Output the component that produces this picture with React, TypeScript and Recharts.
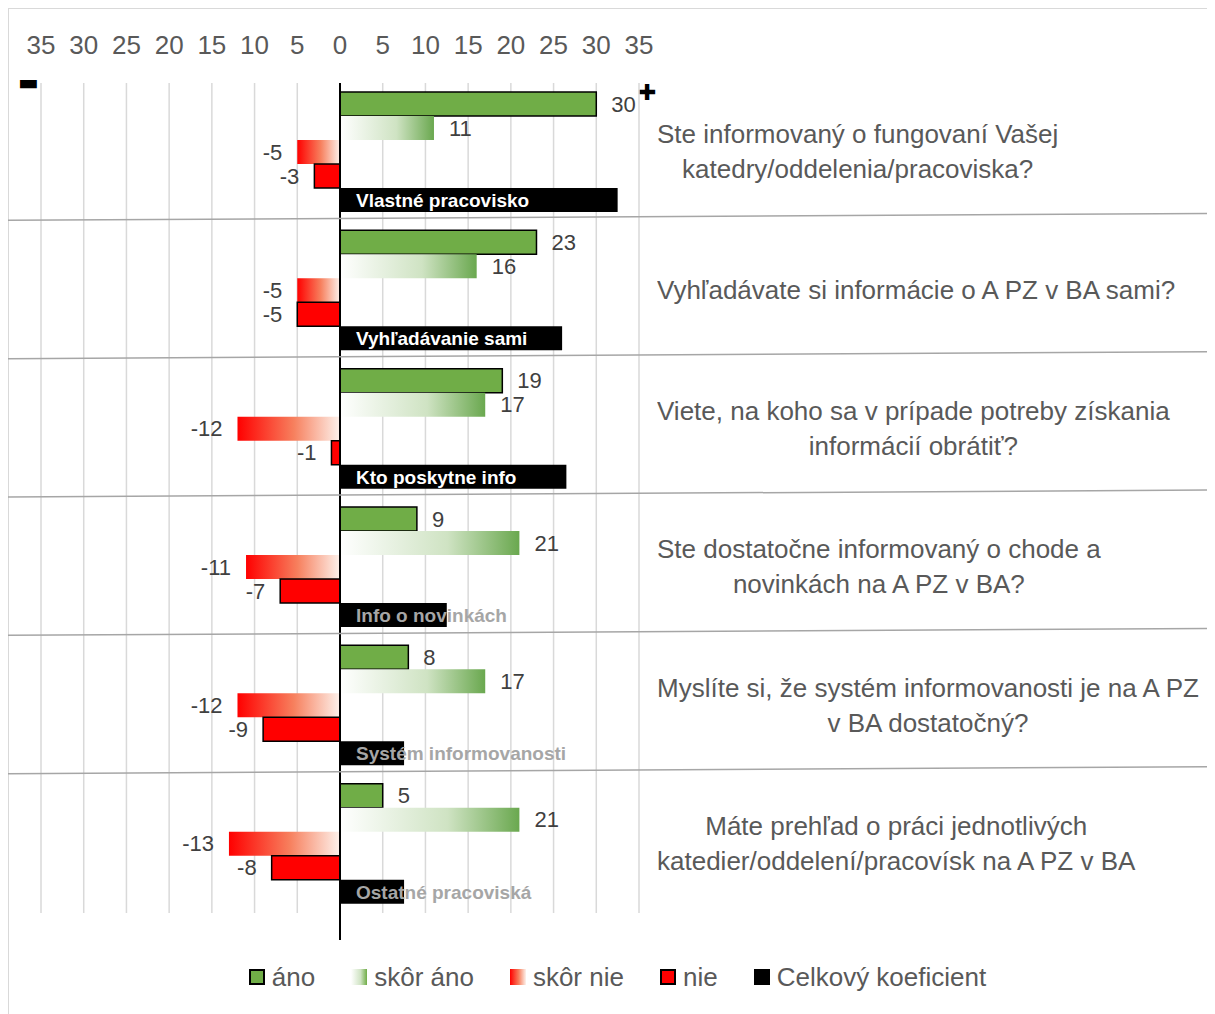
import React from 'react';
import {
  BarChart,
  Bar,
  XAxis,
  YAxis,
  CartesianGrid,
  ReferenceLine,
  LabelList,
  Legend,
} from 'recharts';

// skupiny (názvy v čiernom stĺpci)
const categories = [
  'Vlastné pracovisko',
  'Vyhľadávanie sami',
  'Kto poskytne info',
  'Info o novinkách',
  'Systém informovanosti',
  'Ostatné pracoviská',
];

// otázky vpravo
const questions = [
  ['Ste informovaný o fungovaní Vašej', 'katedry/oddelenia/pracoviska?'],
  ['Vyhľadávate si informácie o A PZ v BA sami?'],
  ['Viete, na koho sa v prípade potreby získania', 'informácií obrátiť?'],
  ['Ste dostatočne informovaný o chode a', 'novinkách na A PZ v BA?'],
  ['Myslíte si, že systém informovanosti je na A PZ', 'v BA dostatočný?'],
  ['Máte prehľad o práci jednotlivých', 'katedier/oddelení/pracovísk na A PZ v BA'],
];

const ano = [30, 23, 19, 9, 8, 5];
const skorAno = [11, 16, 17, 21, 17, 21];
const skorNie = [-5, -5, -12, -11, -12, -13];
const nie = [-3, -5, -1, -7, -9, -8];
const celkovy = [32.5, 26, 26.5, 12.5, 7.5, 7.5];

const xTicks = [-35, -30, -25, -20, -15, -10, -5, 0, 5, 10, 15, 20, 25, 30, 35];
const seriesNames = ['áno', 'skôr áno', 'skôr nie', 'nie', 'Celkový koeficient'];

const data = categories.map((name, i) => ({
  name,
  ano: ano[i],
  skorAno: skorAno[i],
  skorNie: skorNie[i],
  nie: nie[i],
  celkovy: celkovy[i],
}));

const W = 1207;
const H = 1006;
const MARGIN = { top: 35, right: 0, bottom: 71, left: 33 };
const X_AXIS_H = 40;
const LEGEND_H = 30;
const PLOT_H = H - MARGIN.top - X_AXIS_H - MARGIN.bottom - LEGEND_H;
const BAND = PLOT_H / categories.length;

const FONT = '"Liberation Sans", Arial, sans-serif';
const TEXT = '#595959';
const GREEN = '#70ad47';

const QuestionTick = (props: any) => {
  const { x, y, payload } = props;
  const i = categories.indexOf(payload.value);
  const lines = questions[i] || [];
  const top = y - BAND / 2;
  return (
    <g>
      {i > 0 && (
        <line x1={0} x2={W} y1={top - 1} y2={top - 8} stroke="#a6a6a6" strokeWidth={1.5} />
      )}
      <foreignObject x={x} y={y - 60} width={W - x} height={120}>
        <div style={{ height: 120, display: 'flex', alignItems: 'center' }}>
          <div
            style={{
              display: 'inline-block',
              textAlign: 'center',
              whiteSpace: 'nowrap',
              fontFamily: FONT,
              fontSize: 26,
              lineHeight: '35px',
              color: TEXT,
            }}
          >
            {lines.map((l) => (
              <div key={l}>{l}</div>
            ))}
          </div>
        </div>
      </foreignObject>
    </g>
  );
};

const TotalLabel = (props: any) => {
  const { x, y, height, value } = props;
  const i = categories.indexOf(value);
  return (
    <text
      x={x + 16}
      y={y + height / 2}
      dy="0.36em"
      fill={i < 3 ? '#ffffff' : '#a6a6a6'}
      fontWeight="bold"
      fontSize={19}
      fontFamily={FONT}
    >
      {value}
    </text>
  );
};

const legendSwatch = [
  { background: GREEN, border: '2px solid #000' },
  { background: 'linear-gradient(to right, #ffffff, #cfe3c3 60%, #70ad47)' },
  { background: 'linear-gradient(to right, #ff0000, #f7805e 55%, #fdf2ec)' },
  { background: '#ff0000', border: '2px solid #000' },
  { background: '#000000' },
];

const LegendContent = () => (
  <div
    style={{
      height: LEGEND_H,
      display: 'flex',
      justifyContent: 'center',
      alignItems: 'center',
      paddingLeft: 12,
      fontFamily: FONT,
      fontSize: 26,
      color: TEXT,
    }}
  >
    {seriesNames.map((n, i) => (
      <div key={n} style={{ display: 'flex', alignItems: 'center', marginRight: i < 4 ? 36 : 0 }}>
        <span
          style={{
            display: 'inline-block',
            width: 16,
            height: 16,
            boxSizing: 'border-box',
            marginRight: 7,
            ...legendSwatch[i],
          }}
        />
        <span>{n}</span>
      </div>
    ))}
  </div>
);

export default function App() {
  return (
    <div style={{ position: 'relative', width: W, height: H, fontFamily: FONT }}>
      <div style={{ position: 'absolute', left: -1, top: -1, width: W + 1, height: 1.5, background: '#d9d9d9' }} />
      <div style={{ position: 'absolute', left: -1, top: -1, width: 1.5, height: H + 1, background: '#d9d9d9' }} />
      <div style={{ position: 'absolute', left: 10, top: 62, fontSize: 22, fontFamily: '"DejaVu Sans"', color: '#000' }}>▬</div>
      <div style={{ position: 'absolute', left: 630, top: 72, fontSize: 22, fontFamily: '"DejaVu Sans"', color: '#000' }}>✚</div>
      <BarChart
        width={W}
        height={H}
        data={data}
        layout="vertical"
        margin={MARGIN}
        barGap={0}
        barCategoryGap={9}
        style={{ fontFamily: FONT }}
      >
        <defs>
          <linearGradient id="gSkorAno" x1="0" y1="0" x2="1" y2="0">
            <stop offset="0%" stopColor="#ffffff" />
            <stop offset="60%" stopColor="#cfe3c3" />
            <stop offset="100%" stopColor="#6aa84f" />
          </linearGradient>
          <linearGradient id="gSkorNie" x1="0" y1="0" x2="1" y2="0">
            <stop offset="0%" stopColor="#ff0000" />
            <stop offset="55%" stopColor="#f7805e" />
            <stop offset="100%" stopColor="#fdf2ec" />
          </linearGradient>
        </defs>
        <CartesianGrid horizontal={false} stroke="#d9d9d9" strokeWidth={1.5} />
        <XAxis
          type="number"
          orientation="top"
          domain={[-35, 35]}
          ticks={xTicks}
          interval={0}
          height={X_AXIS_H}
          axisLine={false}
          tickLine={false}
          tickSize={6}
          tickMargin={23}
          tickFormatter={(v: number) => String(Math.abs(v))}
          tick={{ fontSize: 26, fill: TEXT }}
        />
        <YAxis
          type="category"
          dataKey="name"
          orientation="right"
          width={576}
          axisLine={false}
          tickLine={false}
          tickSize={0}
          tickMargin={18}
          interval={0}
          tick={<QuestionTick />}
        />
        <Bar dataKey="ano" name={seriesNames[0]} fill={GREEN} stroke="#000" strokeWidth={1.5} isAnimationActive={false}>
          <LabelList dataKey="ano" position="right" offset={15} fill="#404040" fontSize={22} />
        </Bar>
        <Bar dataKey="skorAno" name={seriesNames[1]} fill="url(#gSkorAno)" isAnimationActive={false}>
          <LabelList dataKey="skorAno" position="right" offset={15} fill="#404040" fontSize={22} />
        </Bar>
        <Bar dataKey="skorNie" name={seriesNames[2]} fill="url(#gSkorNie)" isAnimationActive={false}>
          <LabelList dataKey="skorNie" position="right" offset={15} fill="#404040" fontSize={22} />
        </Bar>
        <Bar dataKey="nie" name={seriesNames[3]} fill="#ff0000" stroke="#000" strokeWidth={1.5} isAnimationActive={false}>
          <LabelList dataKey="nie" position="right" offset={15} fill="#404040" fontSize={22} />
        </Bar>
        <Bar dataKey="celkovy" name={seriesNames[4]} fill="#000000" isAnimationActive={false}>
          <LabelList dataKey="name" content={<TotalLabel />} />
        </Bar>
        <ReferenceLine
          x={0}
          stroke="#000"
          strokeWidth={2}
          shape={(p: any) => (
            <line x1={p.x1} y1={p.y1} x2={p.x2} y2={p.y2 + 27} stroke="#000" strokeWidth={2} />
          )}
        />
        <Legend
          verticalAlign="bottom"
          content={<LegendContent />}
          wrapperStyle={{ left: 0, width: W, bottom: 22 }}
        />
      </BarChart>
    </div>
  );
}
